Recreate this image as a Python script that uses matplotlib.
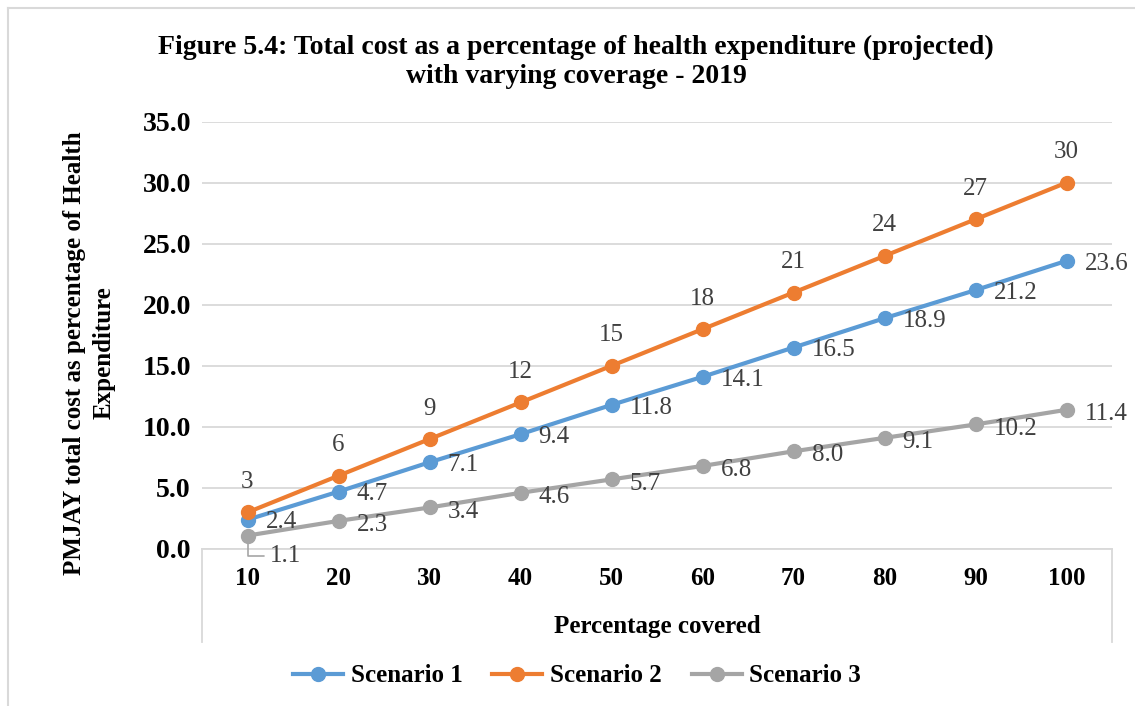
import matplotlib
matplotlib.use("Agg")
import matplotlib.pyplot as plt
from matplotlib.lines import Line2D

# -----------------------------
# Data
# -----------------------------
coverage = [10, 20, 30, 40, 50, 60, 70, 80, 90, 100]
scenario_1 = [2.4, 4.7, 7.1, 9.4, 11.8, 14.1, 16.5, 18.9, 21.2, 23.6]
scenario_2 = [3, 6, 9, 12, 15, 18, 21, 24, 27, 30]
scenario_3 = [1.1, 2.3, 3.4, 4.6, 5.7, 6.8, 8.0, 9.1, 10.2, 11.4]
yticks = [0, 5, 10, 15, 20, 25, 30, 35]

title = ("Figure 5.4: Total cost as a percentage of health expenditure (projected)\n"
         "with varying coverage - 2019")

# -----------------------------
# Style
# -----------------------------
plt.rcParams["font.family"] = ["Liberation Serif", "DejaVu Serif"]
blue, orange, gray = "#5B9BD5", "#ED7D31", "#A5A5A5"
grid_c = "#D9D9D9"
label_c = "#404040"

W, H = 1135, 706
fig = plt.figure(figsize=(W / 100, H / 100), dpi=100)

# plot area in pixels: x 202..1112, y 121.6..549
ax = fig.add_axes([202 / W, (H - 549) / H, 910 / W, (549 - 121.6) / H])
ax.set_xlim(5, 105)
ax.set_ylim(0, 35)

ax.plot(coverage, scenario_1, color=blue, lw=3, marker="o", ms=10, label="Scenario 1", zorder=3)
ax.plot(coverage, scenario_2, color=orange, lw=3, marker="o", ms=10, label="Scenario 2", zorder=3)
ax.plot(coverage, scenario_3, color=gray, lw=3, marker="o", ms=10, label="Scenario 3", zorder=3)

# data labels
for x, v in zip(coverage, scenario_2):
    ax.annotate(f"{v}", (x, v), xytext=(0, 22), textcoords="offset points",
                ha="center", va="center", fontsize=18, color=label_c)
for x, v in zip(coverage, scenario_1):
    ax.annotate(f"{v:.1f}", (x, v), xytext=(13, -2), textcoords="offset points",
                ha="left", va="center", fontsize=18, color=label_c)
for i, (x, v) in enumerate(zip(coverage, scenario_3)):
    if i == 0:
        ax.annotate(f"{v:.1f}", (x, v), xytext=(16, -15), textcoords="offset points",
                    ha="left", va="center", fontsize=18, color=label_c,
                    arrowprops=dict(arrowstyle="-", color=gray, lw=1.2,
                                    connectionstyle="angle,angleA=0,angleB=90,rad=0",
                                    shrinkA=2, shrinkB=6))
    else:
        ax.annotate(f"{v:.1f}", (x, v), xytext=(13, -3), textcoords="offset points",
                    ha="left", va="center", fontsize=18, color=label_c)

ax.set_yticks(yticks)
ax.set_yticklabels([f"{t:.1f}" for t in yticks], fontsize=20, fontweight="bold")
ax.set_xticks(coverage)
ax.set_xticklabels([str(c) for c in coverage], fontsize=18, fontweight="bold")
ax.tick_params(axis="y", length=0, pad=8)
ax.tick_params(axis="x", length=0, pad=13)
ax.grid(axis="y", color=grid_c, lw=1.3)
ax.set_axisbelow(True)
for s in ["top", "right", "left"]:
    ax.spines[s].set_visible(False)
ax.spines["bottom"].set_color(grid_c)
ax.spines["bottom"].set_linewidth(1.3)

# category axis box below the plot
for xp in (202, 1112):
    fig.add_artist(Line2D([xp / W, xp / W], [(H - 549) / H, (H - 642) / H],
                          color=grid_c, lw=1.3))

# outer chart frame (cropped)
fig.add_artist(Line2D([8 / W, 8 / W], [0, (H - 8) / H], color=grid_c, lw=1.5))
fig.add_artist(Line2D([8 / W, 1], [(H - 8) / H, (H - 8) / H], color=grid_c, lw=1.5))

fig.text(576 / W, 1 - 62 / H, title, ha="center", va="center", fontsize=20,
         fontweight="bold", linespacing=1.17)
fig.text(657 / W, 1 - 626 / H, "Percentage covered", ha="center", va="center",
         fontsize=18, fontweight="bold")
fig.text(89 / W, 1 - 353 / H, "PMJAY total cost as percentage of Health\nExpenditure",
         ha="center", va="center", rotation=90, fontsize=18, fontweight="bold",
         linespacing=1.35)

fig.legend(loc="center", bbox_to_anchor=(577 / W, 1 - 676 / H), ncol=3, frameon=False,
           prop={"size": 18, "weight": "bold"}, handlelength=2.0, handletextpad=0.3,
           columnspacing=1.2, markerscale=1.0)

fig.savefig("out.png", dpi=100)
